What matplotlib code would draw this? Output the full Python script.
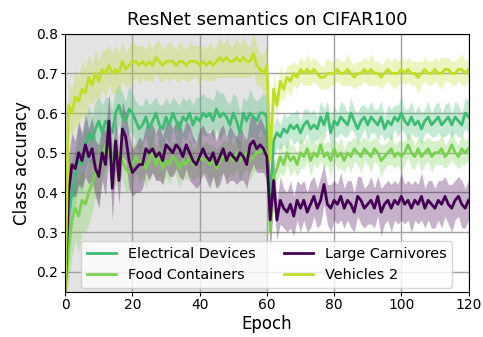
import numpy as np
import matplotlib
matplotlib.use("Agg")
import matplotlib.pyplot as plt

epochs = np.arange(121)

labels = ["Electrical Devices", "Food Containers", "Large Carnivores", "Vehicles 2"]
colors = ["#3fbc73", "#7ad151", "#440154", "#bddf26"]

elec_mean = [0.15,
    0.34, 0.40, 0.44, 0.49, 0.47, 0.52, 0.55, 0.53, 0.56, 0.58,
    0.55, 0.58, 0.57, 0.55, 0.60, 0.62, 0.59, 0.58, 0.61, 0.60,
    0.58, 0.56, 0.57, 0.59, 0.56, 0.58, 0.60, 0.57, 0.56, 0.59,
    0.57, 0.60, 0.58, 0.56, 0.59, 0.58, 0.60, 0.57, 0.59, 0.58,
    0.60, 0.59, 0.60, 0.58, 0.61, 0.59, 0.60, 0.59, 0.57, 0.60,
    0.58, 0.55, 0.60, 0.58, 0.60, 0.59, 0.58, 0.60, 0.60, 0.59,
    0.36, 0.53, 0.55, 0.54, 0.56, 0.55, 0.57, 0.56, 0.57, 0.55,
    0.57, 0.58, 0.56, 0.57, 0.56, 0.59, 0.57, 0.60, 0.55, 0.58,
    0.57, 0.59, 0.58, 0.57, 0.60, 0.58, 0.56, 0.58, 0.59, 0.57,
    0.59, 0.58, 0.57, 0.59, 0.56, 0.58, 0.57, 0.59, 0.58, 0.60,
    0.58, 0.57, 0.59, 0.57, 0.58, 0.56, 0.58, 0.59, 0.57, 0.58,
    0.59, 0.57, 0.58, 0.59, 0.57, 0.59, 0.58, 0.57, 0.60, 0.59]
elec_std = [0.02,
    0.08, 0.08, 0.07, 0.08, 0.07, 0.06, 0.07, 0.06, 0.07, 0.06,
    0.07, 0.06, 0.07, 0.06, 0.06, 0.05, 0.06, 0.05, 0.06, 0.05,
    0.05, 0.06, 0.05, 0.05, 0.06, 0.05, 0.04, 0.05, 0.06, 0.05,
    0.05, 0.04, 0.05, 0.06, 0.05, 0.05, 0.04, 0.05, 0.05, 0.06,
    0.05, 0.05, 0.04, 0.05, 0.05, 0.06, 0.05, 0.04, 0.05, 0.05,
    0.06, 0.05, 0.04, 0.05, 0.06, 0.05, 0.05, 0.04, 0.05, 0.05,
    0.06, 0.04, 0.04, 0.03, 0.04, 0.04, 0.03, 0.04, 0.04, 0.03,
    0.04, 0.03, 0.04, 0.04, 0.03, 0.04, 0.04, 0.03, 0.04, 0.04,
    0.03, 0.04, 0.04, 0.03, 0.04, 0.03, 0.04, 0.04, 0.03, 0.04,
    0.04, 0.03, 0.04, 0.04, 0.03, 0.04, 0.04, 0.03, 0.04, 0.04,
    0.03, 0.04, 0.04, 0.03, 0.04, 0.04, 0.03, 0.04, 0.03, 0.04,
    0.04, 0.03, 0.04, 0.04, 0.03, 0.04, 0.04, 0.03, 0.04, 0.04]

food_mean = [0.15,
    0.25, 0.33, 0.36, 0.34, 0.38, 0.37, 0.40, 0.42, 0.45, 0.44,
    0.49, 0.52, 0.50, 0.48, 0.47, 0.50, 0.48, 0.46, 0.45, 0.47,
    0.49, 0.47, 0.48, 0.46, 0.48, 0.50, 0.47, 0.49, 0.46, 0.48,
    0.47, 0.49, 0.48, 0.46, 0.48, 0.47, 0.49, 0.47, 0.48, 0.49,
    0.48, 0.49, 0.47, 0.48, 0.46, 0.48, 0.49, 0.48, 0.49, 0.48,
    0.50, 0.48, 0.49, 0.50, 0.48, 0.49, 0.50, 0.50, 0.51, 0.50,
    0.30, 0.44, 0.46, 0.49, 0.47, 0.50, 0.48, 0.49, 0.47, 0.50,
    0.49, 0.51, 0.48, 0.50, 0.49, 0.52, 0.49, 0.50, 0.48, 0.51,
    0.49, 0.50, 0.48, 0.50, 0.49, 0.51, 0.50, 0.49, 0.51, 0.50,
    0.49, 0.51, 0.50, 0.48, 0.49, 0.50, 0.51, 0.49, 0.50, 0.49,
    0.50, 0.52, 0.50, 0.49, 0.51, 0.49, 0.50, 0.51, 0.49, 0.50,
    0.50, 0.51, 0.49, 0.50, 0.52, 0.50, 0.49, 0.51, 0.50, 0.51]
food_std = [0.02,
    0.08, 0.09, 0.08, 0.09, 0.08, 0.07, 0.08, 0.07, 0.06, 0.07,
    0.06, 0.05, 0.06, 0.05, 0.06, 0.05, 0.05, 0.06, 0.05, 0.05,
    0.04, 0.05, 0.04, 0.05, 0.04, 0.05, 0.04, 0.05, 0.04, 0.04,
    0.05, 0.04, 0.04, 0.05, 0.04, 0.04, 0.05, 0.04, 0.04, 0.05,
    0.04, 0.04, 0.05, 0.04, 0.05, 0.04, 0.04, 0.05, 0.04, 0.04,
    0.04, 0.05, 0.04, 0.04, 0.05, 0.04, 0.04, 0.04, 0.05, 0.04,
    0.06, 0.04, 0.03, 0.04, 0.03, 0.03, 0.04, 0.03, 0.03, 0.04,
    0.03, 0.03, 0.04, 0.03, 0.03, 0.04, 0.03, 0.03, 0.04, 0.03,
    0.03, 0.04, 0.03, 0.03, 0.04, 0.03, 0.03, 0.04, 0.03, 0.03,
    0.04, 0.03, 0.03, 0.04, 0.03, 0.03, 0.04, 0.03, 0.03, 0.04,
    0.03, 0.03, 0.04, 0.03, 0.03, 0.04, 0.03, 0.03, 0.04, 0.03,
    0.03, 0.04, 0.03, 0.03, 0.04, 0.03, 0.03, 0.04, 0.03, 0.03]

carn_mean = [0.15,
    0.40, 0.47, 0.46, 0.50, 0.48, 0.52, 0.49, 0.51, 0.46, 0.44,
    0.50, 0.47, 0.58, 0.41, 0.53, 0.43, 0.56, 0.54, 0.48, 0.45,
    0.46, 0.47, 0.47, 0.51, 0.50, 0.51, 0.49, 0.50, 0.48, 0.52,
    0.51, 0.50, 0.52, 0.51, 0.49, 0.52, 0.50, 0.48, 0.47, 0.49,
    0.51, 0.49, 0.48, 0.50, 0.47, 0.49, 0.51, 0.48, 0.50, 0.49,
    0.48, 0.50, 0.49, 0.47, 0.52, 0.53, 0.51, 0.52, 0.51, 0.49,
    0.33, 0.43, 0.33, 0.38, 0.36, 0.35, 0.37, 0.34, 0.38, 0.36,
    0.38, 0.35, 0.37, 0.39, 0.36, 0.38, 0.42, 0.37, 0.36, 0.38,
    0.37, 0.39, 0.36, 0.38, 0.37, 0.35, 0.39, 0.38, 0.36, 0.37,
    0.38, 0.36, 0.39, 0.35, 0.37, 0.38, 0.36, 0.38, 0.37, 0.39,
    0.37, 0.38, 0.36, 0.38, 0.37, 0.39, 0.36, 0.38, 0.37, 0.36,
    0.38, 0.37, 0.39, 0.37, 0.36, 0.38, 0.39, 0.37, 0.36, 0.38]
carn_std = [0.02,
    0.09, 0.08, 0.07, 0.08, 0.07, 0.08, 0.07, 0.08, 0.07, 0.08,
    0.07, 0.08, 0.07, 0.08, 0.07, 0.06, 0.07, 0.06, 0.07, 0.06,
    0.06, 0.07, 0.06, 0.06, 0.07, 0.06, 0.06, 0.07, 0.06, 0.06,
    0.07, 0.06, 0.06, 0.07, 0.06, 0.06, 0.07, 0.06, 0.06, 0.07,
    0.06, 0.06, 0.07, 0.06, 0.06, 0.07, 0.06, 0.06, 0.07, 0.06,
    0.06, 0.07, 0.06, 0.06, 0.07, 0.06, 0.06, 0.07, 0.06, 0.06,
    0.08, 0.06, 0.05, 0.06, 0.05, 0.05, 0.06, 0.05, 0.05, 0.06,
    0.05, 0.05, 0.06, 0.05, 0.05, 0.06, 0.05, 0.05, 0.06, 0.05,
    0.05, 0.06, 0.05, 0.05, 0.06, 0.05, 0.05, 0.06, 0.05, 0.05,
    0.06, 0.05, 0.05, 0.06, 0.05, 0.05, 0.06, 0.05, 0.05, 0.06,
    0.05, 0.05, 0.06, 0.05, 0.05, 0.06, 0.05, 0.05, 0.06, 0.05,
    0.05, 0.06, 0.05, 0.05, 0.06, 0.05, 0.05, 0.06, 0.05, 0.05]

veh_mean = [0.15,
    0.62, 0.60, 0.64, 0.63, 0.66, 0.65, 0.69, 0.67, 0.70, 0.68,
    0.71, 0.70, 0.72, 0.70, 0.71, 0.70, 0.73, 0.71, 0.72, 0.73,
    0.73, 0.72, 0.73, 0.72, 0.73, 0.72, 0.74, 0.73, 0.72, 0.73,
    0.73, 0.73, 0.72, 0.73, 0.73, 0.72, 0.73, 0.73, 0.73, 0.72,
    0.73, 0.72, 0.73, 0.72, 0.73, 0.74, 0.73, 0.74, 0.73, 0.73,
    0.74, 0.73, 0.74, 0.73, 0.73, 0.75, 0.72, 0.71, 0.70, 0.72,
    0.48, 0.66, 0.62, 0.68, 0.66, 0.69, 0.68, 0.70, 0.69, 0.71,
    0.70, 0.71, 0.70, 0.71, 0.70, 0.69, 0.69, 0.70, 0.70, 0.70,
    0.71, 0.70, 0.70, 0.71, 0.70, 0.69, 0.70, 0.70, 0.71, 0.70,
    0.71, 0.70, 0.70, 0.69, 0.70, 0.71, 0.70, 0.70, 0.70, 0.71,
    0.70, 0.71, 0.70, 0.70, 0.69, 0.70, 0.71, 0.70, 0.70, 0.71,
    0.70, 0.70, 0.71, 0.71, 0.70, 0.70, 0.71, 0.71, 0.70, 0.71]
veh_std = [0.02,
    0.06, 0.06, 0.07, 0.06, 0.07, 0.06, 0.06, 0.05, 0.06, 0.05,
    0.05, 0.06, 0.05, 0.05, 0.06, 0.05, 0.05, 0.04, 0.05, 0.05,
    0.04, 0.05, 0.04, 0.04, 0.05, 0.04, 0.04, 0.05, 0.04, 0.04,
    0.05, 0.04, 0.04, 0.05, 0.04, 0.04, 0.05, 0.04, 0.04, 0.05,
    0.04, 0.04, 0.05, 0.04, 0.04, 0.05, 0.04, 0.05, 0.04, 0.04,
    0.05, 0.04, 0.05, 0.04, 0.04, 0.05, 0.05, 0.04, 0.05, 0.05,
    0.07, 0.04, 0.03, 0.04, 0.03, 0.03, 0.04, 0.03, 0.03, 0.03,
    0.03, 0.04, 0.03, 0.03, 0.03, 0.03, 0.03, 0.04, 0.03, 0.03,
    0.03, 0.03, 0.03, 0.04, 0.03, 0.03, 0.03, 0.03, 0.03, 0.03,
    0.04, 0.03, 0.03, 0.03, 0.03, 0.03, 0.03, 0.04, 0.03, 0.03,
    0.03, 0.03, 0.03, 0.03, 0.04, 0.03, 0.03, 0.03, 0.03, 0.03,
    0.03, 0.04, 0.03, 0.03, 0.03, 0.03, 0.03, 0.04, 0.03, 0.03]

means = [elec_mean, food_mean, carn_mean, veh_mean]
stds = [elec_std, food_std, carn_std, veh_std]

fig, ax = plt.subplots(figsize=(4.83, 3.37), dpi=100)

# first training phase shaded grey
ax.axvspan(0, 60, color="#b0b0b0", alpha=0.35, lw=0, zorder=0)

for m, s, c, lab in zip(means, stds, colors, labels):
    m = np.array(m)
    s = np.array(s)
    ax.fill_between(epochs, m - s, m + s, color=c, alpha=0.3, lw=0)
    ax.plot(epochs, m, color=c, lw=2, label=lab)

ax.set_xlim(0, 120)
ax.set_ylim(0.15, 0.8)
ax.set_xticks([0, 20, 40, 60, 80, 100, 120])
ax.set_yticks([0.2, 0.3, 0.4, 0.5, 0.6, 0.7, 0.8])
ax.tick_params(length=3, pad=2)
ax.grid(True, color="#a0a0a0", lw=1)
ax.set_axisbelow(True)
ax.set_title("ResNet semantics on CIFAR100", fontsize=13)
ax.set_xlabel("Epoch", fontsize=12, labelpad=2)
ax.set_ylabel("Class accuracy", fontsize=12)
ax.legend(loc="lower center", ncol=2, fontsize=10.4, columnspacing=2.0,
          borderaxespad=0.25)

fig.subplots_adjust(left=0.135, right=0.97, top=0.9, bottom=0.135)
fig.savefig("out.png", dpi=100)
